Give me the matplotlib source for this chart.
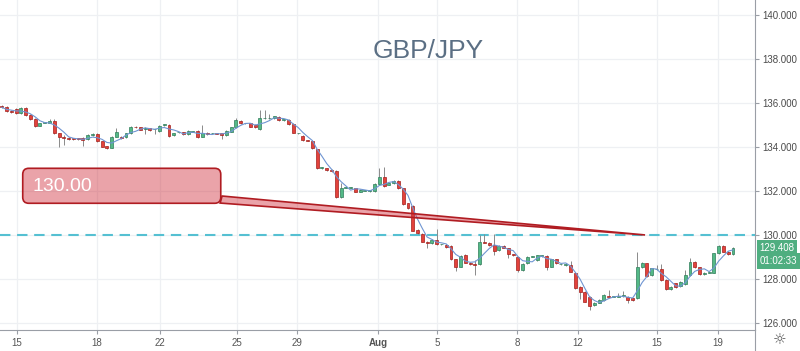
"""GBP/JPY candlestick chart with a 130.00 callout."""
import numpy as np
import pandas as pd
import matplotlib
matplotlib.use("Agg")
import matplotlib.pyplot as plt
from matplotlib.patches import FancyBboxPatch, Polygon
from matplotlib.lines import Line2D
import matplotlib.transforms as mtransforms

plt.rcParams["font.family"] = ["Liberation Sans", "DejaVu Sans"]

# candle data (one bar per entry, left to right)
opens = [
    135.85, 135.80, 135.62, 135.72, 135.53, 135.78, 135.45, 135.27, 134.97, 135.10,
    135.10, 135.20, 134.62, 134.44, 134.42, 134.37, 134.37, 134.42, 134.36, 134.53,
    134.58, 134.25, 134.04, 133.97, 134.47, 134.47, 134.45, 134.62, 134.92, 134.90,
    134.80, 134.85, 134.80, 134.74, 135.00, 135.00, 134.53, 134.67, 134.68, 134.59,
    134.70, 134.74, 134.47, 134.65, 134.62, 134.62, 134.62, 134.55, 134.70, 134.89,
    135.18, 135.08, 135.08, 135.00, 134.80, 135.30, 135.30, 135.30, 135.38, 135.23,
    135.23, 135.05, 134.62, 134.50, 134.30, 134.27, 133.89, 133.05, 133.03, 132.95,
    132.91, 131.71, 132.15, 132.15, 132.12, 131.97, 132.02, 132.00, 132.00, 132.32,
    132.65, 132.28, 132.35, 132.47, 132.12, 131.44, 131.32, 130.23, 130.05, 129.70,
    129.62, 129.77, 129.57, 129.55, 129.50, 128.89, 128.56, 129.09, 128.74, 128.66,
    128.68, 129.70, 129.65, 129.55, 129.32, 129.50, 129.39, 129.10, 128.98, 128.41,
    128.71, 129.02, 128.86, 129.05, 129.05, 128.56, 128.89, 128.67, 128.64, 128.64,
    128.29, 127.65, 127.42, 127.20, 126.82, 126.92, 127.05, 127.23, 127.20, 127.20,
    127.23, 127.20, 127.12, 127.12, 128.53, 128.71, 128.18, 128.44, 128.44, 127.95,
    127.53, 127.80, 127.68, 127.77, 128.18, 128.79, 128.53, 128.23, 128.29, 128.29,
    129.17, 129.50, 129.24, 129.14,
]
closes = [
    135.80, 135.62, 135.60, 135.53, 135.78, 135.45, 135.27, 134.97, 135.07, 135.12,
    135.20, 134.62, 134.47, 134.40, 134.35, 134.36, 134.36, 134.32, 134.53, 134.58,
    134.25, 134.02, 133.97, 134.47, 134.67, 134.40, 134.62, 134.92, 134.90, 134.78,
    134.87, 134.77, 134.80, 134.97, 135.00, 134.50, 134.62, 134.67, 134.58, 134.73,
    134.70, 134.44, 134.62, 134.58, 134.62, 134.61, 134.56, 134.73, 134.89, 135.23,
    135.08, 135.08, 134.92, 134.89, 135.30, 135.30, 135.30, 135.40, 135.23, 135.23,
    135.05, 134.65, 134.62, 134.32, 134.28, 133.94, 133.03, 133.06, 132.95, 132.91,
    131.71, 132.12, 132.17, 132.15, 131.97, 132.04, 132.02, 132.00, 132.32, 132.65,
    132.23, 132.35, 132.47, 132.12, 131.39, 131.21, 130.20, 130.08, 129.70, 129.64,
    129.77, 129.59, 129.57, 129.44, 128.89, 128.56, 129.05, 128.74, 128.68, 128.64,
    129.70, 129.65, 129.55, 129.29, 129.50, 129.43, 129.14, 129.09, 128.41, 128.68,
    129.01, 129.02, 129.08, 129.05, 128.56, 128.89, 128.71, 128.67, 128.64, 128.33,
    127.58, 127.42, 126.97, 126.77, 126.92, 127.05, 127.27, 127.20, 127.20, 127.20,
    127.23, 127.05, 127.05, 128.53, 128.74, 128.14, 128.48, 128.44, 127.95, 127.53,
    127.65, 127.62, 127.88, 128.18, 128.79, 128.53, 128.23, 128.29, 128.29, 129.17,
    129.50, 129.24, 129.14, 129.41,
]
highs = [
    135.90, 135.85, 135.66, 135.76, 135.82, 135.80, 135.48, 135.30, 135.10, 135.15,
    135.25, 135.25, 134.65, 134.55, 134.45, 134.40, 134.40, 134.45, 134.58, 134.62,
    134.62, 134.28, 134.06, 134.50, 134.85, 134.50, 134.65, 134.95, 134.95, 134.93,
    134.90, 134.88, 134.83, 135.00, 135.03, 135.03, 134.65, 134.70, 134.70, 134.76,
    134.73, 134.78, 135.00, 134.68, 134.65, 134.65, 134.64, 134.76, 134.92, 135.30,
    135.21, 135.11, 135.11, 135.03, 135.68, 135.68, 135.52, 135.43, 135.41, 135.26,
    135.26, 135.08, 134.65, 134.53, 134.33, 134.30, 133.92, 133.09, 133.06, 132.98,
    132.94, 132.35, 132.20, 132.18, 132.15, 132.07, 132.05, 132.03, 132.35, 133.03,
    133.08, 132.38, 132.50, 132.50, 132.15, 131.47, 131.35, 130.26, 130.08, 129.73,
    129.80, 130.27, 129.60, 129.58, 129.53, 128.92, 129.08, 129.12, 128.77, 128.86,
    130.00, 130.05, 129.68, 130.05, 129.53, 129.53, 129.42, 129.13, 129.01, 128.71,
    129.04, 129.05, 129.11, 129.08, 129.08, 128.92, 128.92, 128.70, 128.67, 128.80,
    128.32, 127.68, 127.45, 127.23, 126.95, 127.08, 127.30, 127.50, 127.23, 127.35,
    127.45, 127.23, 127.15, 129.24, 128.77, 128.74, 128.51, 128.62, 128.70, 127.98,
    127.68, 127.83, 127.91, 128.41, 128.94, 128.82, 128.56, 128.32, 128.32, 129.20,
    129.53, 129.53, 129.27, 129.47,
]
lows = [
    135.75, 135.58, 135.56, 135.50, 135.50, 135.42, 135.22, 134.93, 134.95, 135.08,
    135.08, 134.58, 134.00, 134.08, 134.30, 134.33, 134.33, 134.05, 134.33, 134.50,
    134.22, 133.98, 133.93, 133.95, 134.45, 134.37, 134.42, 134.60, 134.88, 134.75,
    134.60, 134.74, 134.60, 134.70, 134.97, 134.47, 134.50, 134.64, 134.55, 134.56,
    134.67, 134.40, 134.45, 134.55, 134.58, 134.58, 134.35, 134.52, 134.68, 134.86,
    135.05, 135.05, 134.89, 134.86, 134.77, 135.27, 135.27, 135.27, 135.20, 135.20,
    135.02, 134.62, 134.59, 134.29, 134.25, 133.91, 133.00, 132.98, 132.92, 132.88,
    131.68, 131.68, 132.12, 132.12, 131.94, 131.94, 131.99, 131.97, 131.97, 132.29,
    132.20, 132.25, 132.32, 132.09, 131.36, 131.18, 130.17, 130.05, 129.67, 129.40,
    129.59, 129.56, 129.54, 129.41, 128.86, 128.35, 128.53, 128.71, 128.65, 128.18,
    128.65, 129.62, 129.52, 129.10, 129.29, 129.40, 128.95, 129.06, 128.30, 128.38,
    128.68, 128.99, 128.83, 129.02, 128.40, 128.53, 128.68, 128.64, 128.61, 128.30,
    127.55, 127.10, 126.94, 126.60, 126.79, 126.89, 127.02, 127.17, 127.17, 127.17,
    127.20, 126.90, 127.02, 127.09, 128.50, 128.11, 128.15, 128.41, 127.92, 127.50,
    127.50, 127.59, 127.65, 127.74, 128.15, 128.50, 128.20, 128.20, 128.26, 128.26,
    129.14, 129.21, 129.11, 129.11,
]

date_ticks = [3.2, 19.9, 33.1, 49.2, 61.8, 78.7, 91.1, 107.8, 120.6, 137.1, 149.9]
date_labels = ["15", "18", "22", "25", "29", "Aug", "5", "8", "12", "15", "19"]
price_ticks = [126, 128, 130, 132, 134, 136, 138, 140]

level = 130.00
last_price = 129.408
countdown = "01:02:33"

# callout anchors (bar index / price)
callout_tail = [(46.1, 131.77), (134.6, 130.0), (45.7, 131.45)]

o = np.array(opens)
c = np.array(closes)
h = np.array(highs)
l = np.array(lows)
x = np.arange(len(c))
up = c >= o

green, green_edge = "#53b987", "#2f7d5a"
red, red_edge = "#e2423c", "#a3201c"

fig = plt.figure(figsize=(8, 3.51), dpi=100)
ax = fig.add_axes([0, 21 / 351, 755 / 800, 330 / 351])

ax.set_xlim(-0.36, 157.6)
ax.set_ylim(125.68, 140.68)

# grid
for t in date_ticks:
    ax.axvline(t, color="#eef0f3", lw=0.9, zorder=0)
for p in price_ticks:
    ax.axhline(p, color="#eef0f3", lw=0.9, zorder=0)

# wicks and bodies
ax.vlines(x, l, h, color="#8a8a8a", lw=0.7, zorder=2)
body_lo = np.minimum(o, c)
body_h = np.maximum(np.abs(c - o), 0.03)
ax.bar(x[up], body_h[up], bottom=body_lo[up], width=0.62,
       color=green, edgecolor=green_edge, lw=0.5, zorder=3)
ax.bar(x[~up], body_h[~up], bottom=body_lo[~up], width=0.62,
       color=red, edgecolor=red_edge, lw=0.5, zorder=3)

# moving average
ma = pd.Series(c).rolling(4, min_periods=1).mean()
ax.plot(x, ma, color="#6f95d2", lw=0.8, zorder=4)

# 130 level
ax.axhline(level, color="#55c0d2", lw=1.5, dashes=(5, 3.2), zorder=1)

# callout
tail = Polygon(callout_tail, closed=True, fc=(0.82, 0.2, 0.25, 0.45),
               ec="#b01c22", lw=1.2, zorder=5)
ax.add_patch(tail)
box = FancyBboxPatch((0.0301, 0.384), 0.2623, 0.106,
                     boxstyle="round,pad=0,rounding_size=0.008",
                     mutation_aspect=755 / 330, transform=ax.transAxes,
                     fc=(0.82, 0.2, 0.25, 0.45), ec="#b01c22", lw=1.2, zorder=6)
ax.add_patch(box)
ax.text(0.0425, 0.436, f"{level:.2f}", transform=ax.transAxes, color="white",
        fontsize=14, va="center", ha="left", zorder=7)

ax.text(0.567, 0.845, "GBP/JPY", transform=ax.transAxes, color="#5b6f84",
        fontsize=19, ha="center", va="center")

# axes styling
for side in ["left", "top"]:
    ax.spines[side].set_visible(False)
ax.spines["right"].set_color("#9a9ea6")
ax.spines["bottom"].set_color("#9a9ea6")
ax.yaxis.tick_right()
ax.set_yticks(price_ticks)
ax.set_yticklabels([f"{p:.3f}" for p in price_ticks])
ax.tick_params(axis="y", length=3, color="#9a9ea6", labelsize=7,
               labelcolor="#4a4a4a", pad=2)
ax.set_xticks(date_ticks)
ax.set_xticklabels(date_labels)
ax.tick_params(axis="x", length=3, color="#9a9ea6", labelsize=7,
               labelcolor="#555555", pad=3)
for lab in ax.get_xticklabels():
    if lab.get_text() == "Aug":
        lab.set_fontweight("bold")

# last price and countdown tags
trans = mtransforms.blended_transform_factory(ax.transAxes, ax.transData)
tag = dict(boxstyle="square,pad=0.28", fc="#4fae80", ec="none")
ax.text(1.006, last_price, f"{last_price:.3f}", transform=trans, color="white",
        fontsize=7, va="center", ha="left", clip_on=False, bbox=tag)
ax.text(1.006, 128.82, countdown, transform=trans, color="white",
        fontsize=7, va="center", ha="left", clip_on=False, bbox=tag)

# right spine continues below the time axis, gear icon
fig.add_artist(Line2D([755 / 800, 755 / 800], [0, 21 / 351],
                      color="#9a9ea6", lw=0.8))
fig.text(0.975, 0.03, "\u263c", ha="center", va="center", fontsize=11,
         color="#555555", family="DejaVu Sans")

fig.savefig("out.png", dpi=100)
